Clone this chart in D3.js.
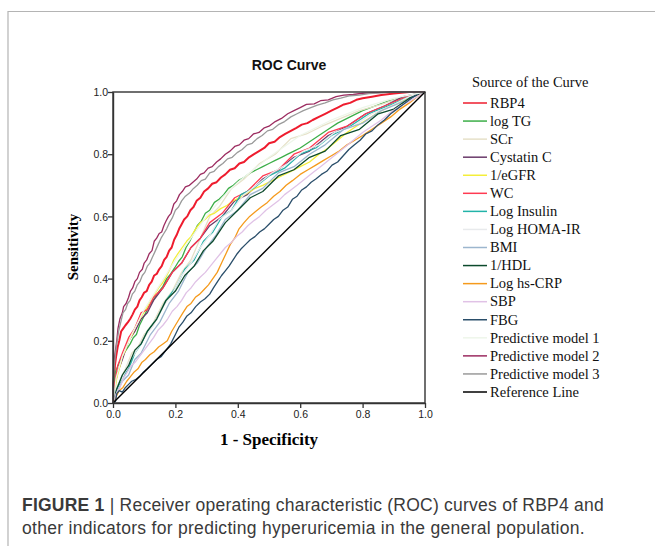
<!DOCTYPE html>
<html>
<head>
<meta charset="utf-8">
<script src="https://cdn.jsdelivr.net/npm/d3@7"></script>
<style>
  body { margin: 0; background: #fff; }
  svg { display: block; }
</style>
</head>
<body>
<svg id="chart" width="655" height="546"></svg>
<script>
// ROC points [1 - specificity, sensitivity]
const rbp4 = [[0,0],[0,0.04],[0.004,0.08],[0.006,0.12],[0.01,0.15],[0.015,0.18],[0.02,0.2],[0.026,0.23],[0.033,0.24],[0.04,0.25],[0.048,0.26],[0.055,0.27],[0.063,0.285],[0.07,0.3],[0.078,0.31],[0.085,0.33],[0.092,0.34],[0.1,0.355],[0.108,0.36],[0.116,0.38],[0.124,0.39],[0.132,0.41],[0.14,0.415],[0.148,0.43],[0.156,0.44],[0.164,0.46],[0.172,0.47],[0.18,0.49],[0.188,0.5],[0.196,0.525],[0.204,0.54],[0.212,0.56],[0.22,0.575],[0.228,0.59],[0.238,0.6],[0.248,0.62],[0.258,0.63],[0.268,0.65],[0.28,0.66],[0.292,0.68],[0.305,0.69],[0.318,0.705],[0.332,0.71],[0.346,0.725],[0.36,0.735],[0.375,0.75],[0.39,0.755],[0.405,0.77],[0.42,0.775],[0.436,0.79],[0.452,0.8],[0.468,0.81],[0.485,0.82],[0.5,0.835],[0.518,0.84],[0.535,0.855],[0.552,0.865],[0.57,0.875],[0.588,0.885],[0.605,0.895],[0.623,0.9],[0.64,0.91],[0.66,0.92],[0.68,0.93],[0.7,0.94],[0.72,0.95],[0.74,0.96],[0.76,0.965],[0.78,0.975],[0.8,0.98],[0.83,0.985],[0.86,0.99],[0.9,0.995],[0.95,1],[1,1]];
const logTG = [[0,0],[0.003,0.06],[0.008,0.1],[0.016,0.12],[0.025,0.14],[0.035,0.16],[0.045,0.175],[0.055,0.19],[0.065,0.21],[0.075,0.22],[0.085,0.25],[0.095,0.27],[0.105,0.29],[0.115,0.31],[0.125,0.325],[0.135,0.34],[0.148,0.36],[0.16,0.375],[0.172,0.4],[0.185,0.415],[0.198,0.435],[0.21,0.455],[0.222,0.47],[0.234,0.5],[0.246,0.52],[0.258,0.545],[0.27,0.57],[0.283,0.585],[0.296,0.61],[0.31,0.62],[0.325,0.645],[0.34,0.655],[0.355,0.67],[0.37,0.69],[0.386,0.7],[0.402,0.715],[0.42,0.725],[0.44,0.74],[0.46,0.75],[0.48,0.76],[0.5,0.77],[0.52,0.78],[0.54,0.79],[0.56,0.8],[0.58,0.81],[0.6,0.82],[0.63,0.84],[0.66,0.86],[0.69,0.88],[0.72,0.9],[0.76,0.92],[0.8,0.94],[0.84,0.955],[0.88,0.97],[0.92,0.98],[0.96,0.99],[1,1]];
const scr = [[0,0],[0.01,0.04],[0.025,0.08],[0.04,0.11],[0.06,0.16],[0.08,0.18],[0.1,0.22],[0.13,0.26],[0.16,0.32],[0.19,0.36],[0.22,0.42],[0.25,0.46],[0.28,0.53],[0.31,0.6],[0.34,0.63],[0.38,0.69],[0.42,0.72],[0.47,0.77],[0.52,0.8],[0.57,0.85],[0.62,0.865],[0.67,0.89],[0.73,0.915],[0.79,0.94],[0.86,0.96],[0.93,0.985],[1,1]];
const cystatinC = [[0,0],[0.005,0.05],[0.015,0.1],[0.03,0.14],[0.05,0.2],[0.07,0.23],[0.09,0.27],[0.11,0.29],[0.13,0.33],[0.16,0.37],[0.19,0.42],[0.22,0.45],[0.25,0.5],[0.28,0.53],[0.31,0.57],[0.35,0.6],[0.39,0.65],[0.43,0.67],[0.48,0.72],[0.53,0.75],[0.58,0.79],[0.63,0.81],[0.69,0.86],[0.75,0.89],[0.81,0.93],[0.87,0.955],[0.93,0.985],[1,1]];
const eGFR = [[0,0],[0.006,0.04],[0.012,0.08],[0.02,0.11],[0.03,0.15],[0.04,0.17],[0.05,0.2],[0.062,0.22],[0.074,0.25],[0.086,0.27],[0.098,0.29],[0.11,0.31],[0.122,0.335],[0.134,0.35],[0.146,0.37],[0.158,0.385],[0.17,0.405],[0.182,0.43],[0.195,0.46],[0.208,0.48],[0.222,0.5],[0.236,0.52],[0.25,0.535],[0.265,0.56],[0.28,0.58],[0.295,0.59],[0.31,0.605],[0.325,0.61],[0.345,0.625],[0.365,0.635],[0.385,0.65],[0.405,0.66],[0.43,0.675],[0.455,0.69],[0.48,0.7],[0.51,0.715],[0.54,0.73],[0.57,0.745],[0.6,0.76],[0.63,0.775],[0.66,0.8],[0.69,0.82],[0.72,0.845],[0.75,0.87],[0.78,0.89],[0.82,0.915],[0.86,0.94],[0.9,0.96],[0.95,0.98],[1,1]];
const wc = [[0,0],[0.005,0.06],[0.015,0.12],[0.03,0.16],[0.05,0.21],[0.07,0.24],[0.09,0.29],[0.11,0.3],[0.13,0.34],[0.16,0.37],[0.19,0.42],[0.22,0.45],[0.25,0.5],[0.28,0.53],[0.31,0.58],[0.35,0.61],[0.39,0.66],[0.43,0.68],[0.48,0.73],[0.53,0.75],[0.58,0.8],[0.63,0.82],[0.69,0.87],[0.75,0.89],[0.81,0.93],[0.87,0.955],[0.93,0.98],[1,1]];
const logInsulin = [[0,0],[0.01,0.04],[0.03,0.08],[0.05,0.11],[0.07,0.16],[0.09,0.19],[0.11,0.23],[0.14,0.27],[0.17,0.33],[0.2,0.37],[0.23,0.43],[0.26,0.46],[0.29,0.52],[0.32,0.55],[0.35,0.6],[0.38,0.62],[0.41,0.67],[0.45,0.69],[0.5,0.73],[0.55,0.755],[0.6,0.8],[0.65,0.82],[0.7,0.86],[0.76,0.89],[0.82,0.93],[0.88,0.955],[0.94,0.98],[1,1]];
const logHoma = [[0,0],[0.01,0.05],[0.03,0.08],[0.05,0.13],[0.07,0.16],[0.1,0.21],[0.13,0.25],[0.16,0.31],[0.19,0.35],[0.22,0.41],[0.25,0.45],[0.28,0.5],[0.31,0.54],[0.34,0.59],[0.38,0.62],[0.42,0.67],[0.46,0.7],[0.51,0.74],[0.56,0.77],[0.61,0.81],[0.66,0.83],[0.71,0.87],[0.77,0.89],[0.83,0.93],[0.89,0.955],[0.95,0.985],[1,1]];
const bmi = [[0,0],[0.01,0.03],[0.03,0.07],[0.05,0.09],[0.07,0.14],[0.09,0.16],[0.12,0.22],[0.15,0.26],[0.18,0.32],[0.21,0.36],[0.24,0.42],[0.27,0.45],[0.3,0.5],[0.33,0.54],[0.36,0.59],[0.4,0.62],[0.44,0.67],[0.48,0.69],[0.53,0.74],[0.58,0.76],[0.63,0.8],[0.68,0.83],[0.74,0.88],[0.8,0.9],[0.86,0.94],[0.92,0.965],[1,1]];
const hdl = [[0,0],[0.01,0.04],[0.03,0.09],[0.05,0.12],[0.07,0.17],[0.09,0.19],[0.11,0.23],[0.14,0.27],[0.17,0.33],[0.2,0.36],[0.23,0.41],[0.26,0.44],[0.29,0.49],[0.32,0.52],[0.36,0.58],[0.4,0.62],[0.44,0.66],[0.48,0.68],[0.53,0.73],[0.58,0.75],[0.63,0.79],[0.68,0.81],[0.73,0.86],[0.79,0.88],[0.85,0.93],[0.9,0.945],[0.95,0.98],[1,1]];
const hsCRP = [[0,0],[0.01,0.02],[0.02,0.04],[0.032,0.05],[0.044,0.07],[0.056,0.085],[0.068,0.1],[0.08,0.11],[0.092,0.13],[0.104,0.14],[0.118,0.155],[0.132,0.165],[0.146,0.18],[0.16,0.19],[0.174,0.2],[0.188,0.23],[0.2,0.25],[0.212,0.27],[0.224,0.29],[0.237,0.31],[0.25,0.32],[0.264,0.34],[0.278,0.35],[0.292,0.365],[0.306,0.38],[0.32,0.4],[0.334,0.42],[0.348,0.45],[0.362,0.48],[0.376,0.51],[0.39,0.53],[0.404,0.56],[0.42,0.58],[0.438,0.6],[0.456,0.615],[0.475,0.63],[0.495,0.645],[0.515,0.665],[0.535,0.68],[0.555,0.7],[0.575,0.715],[0.6,0.735],[0.625,0.75],[0.65,0.765],[0.675,0.78],[0.7,0.795],[0.725,0.81],[0.75,0.83],[0.775,0.845],[0.8,0.86],[0.83,0.88],[0.86,0.9],[0.89,0.92],[0.92,0.945],[0.95,0.965],[0.975,0.985],[1,1]];
const sbp = [[0,0],[0.01,0.03],[0.022,0.05],[0.034,0.08],[0.046,0.1],[0.058,0.12],[0.07,0.13],[0.085,0.15],[0.1,0.17],[0.115,0.19],[0.13,0.21],[0.145,0.235],[0.16,0.25],[0.175,0.27],[0.19,0.295],[0.205,0.31],[0.22,0.33],[0.235,0.355],[0.25,0.37],[0.265,0.39],[0.28,0.405],[0.296,0.42],[0.312,0.44],[0.328,0.46],[0.344,0.48],[0.36,0.5],[0.378,0.515],[0.396,0.535],[0.414,0.55],[0.432,0.57],[0.45,0.585],[0.47,0.6],[0.49,0.62],[0.51,0.635],[0.53,0.65],[0.55,0.67],[0.57,0.685],[0.59,0.7],[0.615,0.72],[0.64,0.74],[0.665,0.76],[0.69,0.78],[0.715,0.8],[0.74,0.82],[0.77,0.845],[0.8,0.87],[0.83,0.89],[0.86,0.91],[0.89,0.935],[0.92,0.955],[0.95,0.97],[0.975,0.985],[1,1]];
const fbg = [[0,0],[0.008,0.005],[0.012,0.03],[0.02,0.04],[0.03,0.035],[0.04,0.05],[0.05,0.06],[0.06,0.07],[0.072,0.075],[0.085,0.085],[0.098,0.1],[0.11,0.11],[0.125,0.125],[0.14,0.14],[0.155,0.15],[0.17,0.17],[0.185,0.19],[0.2,0.22],[0.212,0.245],[0.224,0.26],[0.237,0.28],[0.25,0.29],[0.265,0.31],[0.28,0.325],[0.295,0.335],[0.31,0.35],[0.322,0.37],[0.335,0.39],[0.348,0.41],[0.36,0.425],[0.372,0.44],[0.385,0.46],[0.398,0.48],[0.41,0.495],[0.425,0.51],[0.44,0.525],[0.455,0.535],[0.47,0.55],[0.485,0.56],[0.5,0.575],[0.515,0.59],[0.53,0.6],[0.545,0.62],[0.56,0.63],[0.575,0.655],[0.59,0.665],[0.605,0.685],[0.62,0.695],[0.635,0.71],[0.65,0.72],[0.668,0.735],[0.685,0.745],[0.702,0.765],[0.72,0.775],[0.738,0.795],[0.756,0.815],[0.774,0.83],[0.792,0.845],[0.81,0.865],[0.83,0.875],[0.85,0.895],[0.87,0.91],[0.89,0.93],[0.91,0.945],[0.93,0.96],[0.95,0.975],[0.97,0.99],[0.985,0.997],[1,1]];
const model1 = [[0,0],[0.01,0.08],[0.03,0.15],[0.06,0.22],[0.1,0.3],[0.15,0.38],[0.2,0.46],[0.25,0.53],[0.3,0.6],[0.35,0.66],[0.4,0.71],[0.5,0.79],[0.6,0.86],[0.7,0.91],[0.8,0.95],[0.9,0.98],[1,1]];
const model2 = [[0,0],[0,0.06],[0.003,0.1],[0.004,0.14],[0.008,0.17],[0.012,0.2],[0.016,0.24],[0.022,0.27],[0.03,0.29],[0.034,0.31],[0.042,0.32],[0.05,0.34],[0.056,0.36],[0.063,0.37],[0.07,0.39],[0.078,0.4],[0.085,0.42],[0.094,0.43],[0.1,0.45],[0.108,0.46],[0.116,0.48],[0.125,0.49],[0.132,0.52],[0.14,0.53],[0.148,0.545],[0.156,0.55],[0.163,0.57],[0.17,0.585],[0.178,0.6],[0.186,0.61],[0.195,0.64],[0.204,0.65],[0.213,0.67],[0.222,0.68],[0.232,0.695],[0.245,0.7],[0.256,0.71],[0.268,0.72],[0.28,0.735],[0.292,0.74],[0.305,0.755],[0.318,0.76],[0.332,0.775],[0.345,0.785],[0.36,0.8],[0.375,0.81],[0.39,0.825],[0.405,0.83],[0.42,0.845],[0.435,0.85],[0.45,0.865],[0.468,0.87],[0.485,0.885],[0.5,0.89],[0.52,0.905],[0.54,0.915],[0.56,0.93],[0.58,0.94],[0.6,0.95],[0.62,0.96],[0.645,0.962],[0.665,0.972],[0.69,0.975],[0.715,0.985],[0.74,0.99],[0.77,0.992],[0.8,0.996],[0.85,0.998],[0.9,1],[1,1]];
const model3 = [[0,0],[0,0.05],[0.002,0.09],[0.005,0.13],[0.008,0.16],[0.012,0.19],[0.018,0.23],[0.025,0.26],[0.032,0.29],[0.04,0.3],[0.047,0.32],[0.055,0.33],[0.062,0.35],[0.07,0.36],[0.078,0.38],[0.086,0.39],[0.094,0.41],[0.102,0.42],[0.11,0.44],[0.118,0.45],[0.127,0.47],[0.136,0.49],[0.145,0.51],[0.154,0.53],[0.163,0.545],[0.172,0.56],[0.181,0.58],[0.19,0.595],[0.2,0.62],[0.21,0.63],[0.22,0.65],[0.232,0.665],[0.245,0.675],[0.258,0.69],[0.27,0.7],[0.283,0.715],[0.296,0.72],[0.31,0.74],[0.324,0.745],[0.338,0.76],[0.352,0.77],[0.367,0.785],[0.382,0.79],[0.398,0.805],[0.414,0.815],[0.43,0.83],[0.446,0.835],[0.462,0.85],[0.478,0.86],[0.495,0.875],[0.512,0.88],[0.53,0.895],[0.55,0.905],[0.57,0.92],[0.59,0.93],[0.61,0.94],[0.63,0.948],[0.655,0.958],[0.68,0.965],[0.705,0.975],[0.73,0.98],[0.76,0.988],[0.79,0.99],[0.82,0.995],[0.87,0.998],[0.92,1],[1,1]];
const referenceLine = [[0,0],[1,1]];

const seriesNames = ["RBP4", "log TG", "SCr", "Cystatin C", "1/eGFR", "WC", "Log Insulin",
  "Log HOMA-IR", "BMI", "1/HDL", "Log hs-CRP", "SBP", "FBG",
  "Predictive model 1", "Predictive model 2", "Predictive model 3", "Reference Line"];
const seriesValues = [rbp4, logTG, scr, cystatinC, eGFR, wc, logInsulin, logHoma, bmi, hdl,
  hsCRP, sbp, fbg, model1, model2, model3, referenceLine];
const seriesColors = ["#ee1c2e", "#3cae48", "#e6e1c8", "#6a3a6a", "#f4ee3a", "#ff3a52", "#22b3a8",
  "#e8eaec", "#9cb6ce", "#0c4a2c", "#f59a1c", "#e0c2e6", "#2a4e6a",
  "#eef6ea", "#9c2c60", "#9a9a9a", "#000000"];
const xTicks = [0, 0.2, 0.4, 0.6, 0.8, 1.0];
const yTicks = [0, 0.2, 0.4, 0.6, 0.8, 1.0];

const svg = d3.select("#chart");
const plotL = 113, plotR = 425, plotT = 92, plotB = 403;

// outer figure frame
svg.append("path")
  .attr("d", "M8,546 V11.5 H655")
  .attr("fill", "none")
  .attr("stroke", "#b4b4b4")
  .attr("stroke-width", 1.2);

const x = d3.scaleLinear().domain([0, 1]).range([plotL, plotR]);
const y = d3.scaleLinear().domain([0, 1]).range([plotB, plotT]);

// title
svg.append("text")
  .attr("x", 289).attr("y", 70)
  .attr("text-anchor", "middle")
  .style("font-family", "Liberation Sans, Arial, sans-serif")
  .style("font-size", "14px")
  .style("font-weight", "bold")
  .style("fill", "#111")
  .text("ROC Curve");

// curves
const line = d3.line().x(d => x(d[0])).y(d => y(d[1]));
const curves = svg.append("g");
seriesValues.forEach((vals, i) => {
  curves.append("path")
    .attr("d", line(vals))
    .attr("fill", "none")
    .attr("stroke", seriesColors[i])
    .attr("stroke-width", i === 0 ? 2 : (i === 16 ? 1.4 : 1.3))
    .attr("stroke-linejoin", "round");
});

// plot frame
svg.append("rect")
  .attr("x", plotL).attr("y", plotT)
  .attr("width", plotR - plotL).attr("height", plotB - plotT)
  .attr("fill", "none")
  .attr("stroke", "#333")
  .attr("stroke-width", 1.4);

const fmt = d3.format(".1f");
const xAxis = svg.append("g")
  .attr("transform", `translate(0,${plotB})`)
  .call(d3.axisBottom(x).tickValues(xTicks).tickFormat(fmt).tickSize(5).tickSizeOuter(0));
const yAxis = svg.append("g")
  .attr("transform", `translate(${plotL},0)`)
  .call(d3.axisLeft(y).tickValues(yTicks).tickFormat(fmt).tickSize(5).tickSizeOuter(0));
[xAxis, yAxis].forEach(a => {
  a.select(".domain").attr("stroke", "#333").attr("stroke-width", 1.4);
  a.selectAll(".tick line").attr("stroke", "#333").attr("stroke-width", 1.3);
  a.selectAll(".tick text")
    .style("font-family", "Liberation Sans, Arial, sans-serif")
    .style("font-size", "10.5px")
    .style("fill", "#222");
});
xAxis.selectAll(".tick text").attr("y", 8);
yAxis.selectAll(".tick text").attr("x", -5).attr("dy", "0.35em");

// axis titles
svg.append("text")
  .attr("x", 269).attr("y", 445)
  .attr("text-anchor", "middle")
  .style("font-family", "Liberation Serif, Times New Roman, serif")
  .style("font-size", "17px")
  .style("font-weight", "bold")
  .text("1 - Specificity");
svg.append("text")
  .attr("transform", "translate(78,247) rotate(-90)")
  .attr("text-anchor", "middle")
  .style("font-family", "Liberation Serif, Times New Roman, serif")
  .style("font-size", "15px")
  .style("font-weight", "bold")
  .text("Sensitivity");

// legend
const legend = svg.append("g")
  .style("font-family", "Liberation Serif, Times New Roman, serif")
  .style("font-size", "14.5px")
  .style("fill", "#111");
legend.append("text").attr("x", 472).attr("y", 87).text("Source of the Curve");
const ly = d3.scalePoint().domain(seriesNames).range([103, 392]);
seriesNames.forEach((name, i) => {
  legend.append("line")
    .attr("x1", 463).attr("x2", 487)
    .attr("y1", ly(name)).attr("y2", ly(name))
    .attr("stroke", seriesColors[i])
    .attr("stroke-width", 1.5);
  legend.append("text")
    .attr("x", 490).attr("y", ly(name)).attr("dy", "0.33em")
    .text(name);
});

// caption
const capLines = [
  [["FIGURE 1", true], [" | Receiver operating characteristic (ROC) curves of RBP4 and", false]],
  [["other indicators for predicting hyperuricemia in the general population.", false]]
];
const capWidths = [582, 563];
capLines.forEach((parts, li) => {
  const t = svg.append("text")
    .attr("x", 22).attr("y", 511 + li * 23)
    .style("font-family", "Liberation Sans, Arial, sans-serif")
    .style("font-size", "17.5px")
    .style("fill", "#3a3a3a");
  parts.forEach(([s, b]) => {
    t.append("tspan").style("font-weight", b ? "bold" : "normal").text(s);
  });
  const n = parts.map(p => p[0]).join("").length;
  const w = t.node().getComputedTextLength();
  t.style("letter-spacing", ((capWidths[li] - w) / n) + "px");
});
</script>
</body>
</html>
